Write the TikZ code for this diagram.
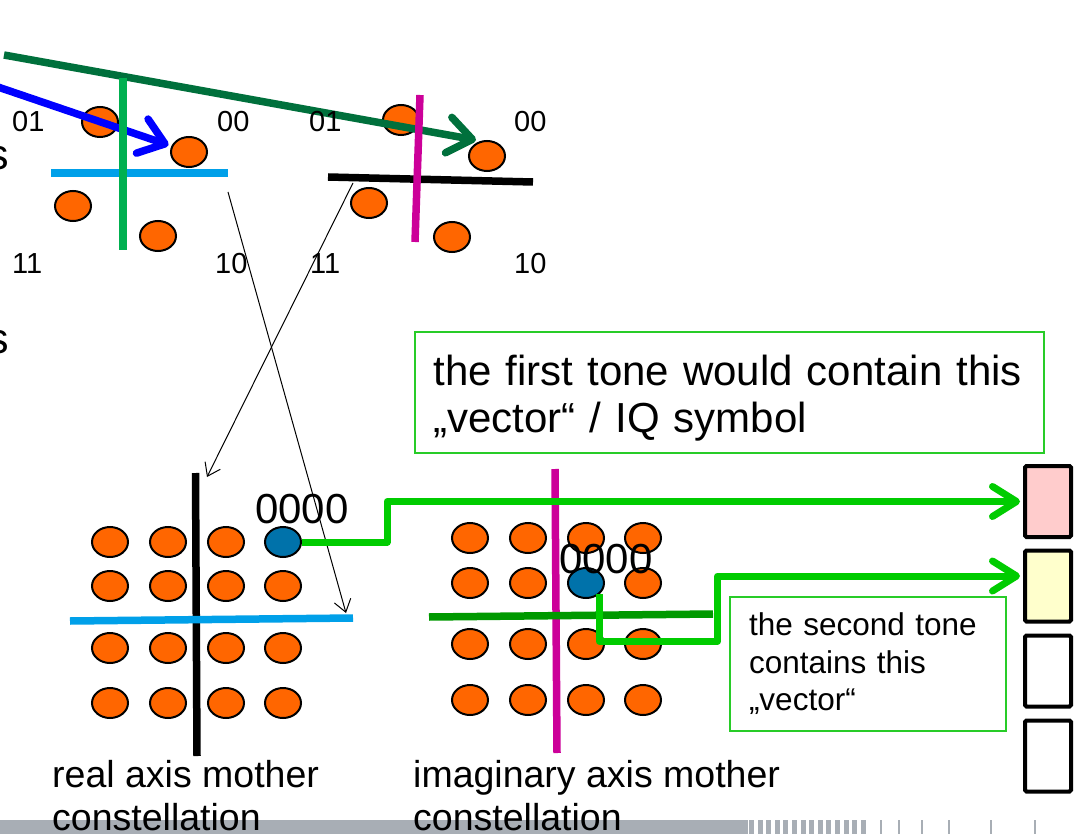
\documentclass[tikz,border=0pt]{standalone}
\usepackage{fontspec}
\setmainfont{Liberation Sans}
\usetikzlibrary{shapes.geometric,arrows.meta,calc}
\definecolor{orng}{RGB}{255,102,0}
\definecolor{dotblue}{RGB}{0,114,170}
\definecolor{dkgreen}{RGB}{0,112,60}
\definecolor{vgreen}{RGB}{0,176,80}
\definecolor{lblue}{RGB}{0,160,233}
\definecolor{magen}{RGB}{204,0,153}
\definecolor{cgreen}{RGB}{0,204,0}
\definecolor{hgreen}{RGB}{0,153,0}
\definecolor{bxgreen}{RGB}{40,204,40}
\definecolor{pinkf}{RGB}{255,204,204}
\definecolor{yellf}{RGB}{255,255,204}
\definecolor{barg}{RGB}{168,174,181}
\begin{document}
\begin{tikzpicture}[x=1pt,y=-1pt,
  dot/.style={ellipse,draw=black,line width=2pt,fill=orng,minimum width=36pt,minimum height=30pt,inner sep=0pt},
  bdot/.style={dot,fill=dotblue},
  axisline/.style={line width=7.5pt},
  barrow/.style={line width=7.5pt,line cap=butt,-{Straight Barb[length=24pt,width=36pt,round]}},
  thinarrow/.style={line width=1pt,-{Straight Barb[length=12pt,width=17pt]}},
  conn/.style={draw=cgreen,line width=7pt,line join=round,-{Straight Barb[length=24pt,width=30pt,round]}},
  lbl/.style={font=\fontsize{29}{33}\selectfont,inner sep=0pt,anchor=base west},
  bits/.style={font=\fontsize{42}{48}\selectfont,inner sep=0pt,anchor=base west},
  tone/.style={draw=black,line width=4pt,rounded corners=1.5pt,minimum width=46pt,minimum height=71pt,inner sep=0pt},
  note/.style={draw=bxgreen,line width=2.5pt,inner sep=0pt,align=left},
  axlabel/.style={font=\fontsize{37.5}{43}\selectfont,inner sep=0pt,anchor=north west,align=left}
]
\useasboundingbox[fill=white] (0,0) rectangle (1081,834);

% bottom bar
\fill[barg] (0,820) rectangle (748,834);
\foreach \i in {0,...,13} \fill[barg] ({749+8.6*\i},820) rectangle ++(5,14);
\foreach \x in {880,898,921,948,990,1034} \fill[barg] (\x,820) rectangle ++(2,14);

% cut-off letters at left edge
\node[anchor=base east,inner sep=0pt,font=\fontsize{43}{48}\selectfont] (s1) at (9,170) {s};
\node[anchor=base east,inner sep=0pt,font=\fontsize{43}{48}\selectfont] (s2) at (9,353) {s};

% top constellations
\node[dot] (q1a) at (100,122) {};
\node[dot] (q1b) at (189,152) {};
\node[dot] (q1c) at (73,206) {};
\node[dot] (q1d) at (158,236) {};
\node[dot] (q2a) at (401,120) {};
\node[dot] (q2b) at (487,156) {};
\node[dot] (q2c) at (369,203) {};
\node[dot] (q2d) at (452,237) {};

\coordinate (bs) at (-5,86);
\coordinate (gs) at (4,55);
\coordinate (ge) at (476,140);
\draw[barrow,draw=blue,shorten >=3pt] (bs) -- (q1b);
\draw[barrow,draw=dkgreen] (gs) -- (ge);

\draw[axisline,lblue] (51,173) -- (228,173);
\draw[axisline,vgreen] (123,78) -- (123,250);
\draw[axisline,black] (328,177) -- (533,182);
\draw[axisline,magen] (420,95) -- (415,242);

\node[lbl] (l1a) at (12,132) {01};
\node[lbl] (l1b) at (217,132) {00};
\node[lbl] (l1c) at (12,273) {11};
\node[lbl] (l1d) at (215,273) {10};
\node[lbl] (l2a) at (309,132) {01};
\node[lbl] (l2b) at (514,132) {00};
\node[lbl] (l2c) at (310,273) {11};
\node[lbl] (l2d) at (514,273) {10};

% bottom-left constellation
\foreach \c/\x in {1/110,2/168,3/226,4/283}
  \foreach \r/\y in {1/542,2/586,3/648,4/703}
    {\ifnum\r\c=14 \else \node[dot] (L\r\c) at (\x,\y) {};\fi}
\node[bdot] (L14) at (283,542) {};
\draw[axisline,black] (195.5,473) -- (197,756);
\draw[axisline,lblue] (70,621) -- (353,618);
\node[bits] (b1) at (255,523) {0000};

% bottom-middle constellation
\foreach \c/\x in {1/470,2/528,3/586,4/643}
  \foreach \r/\y in {1/538,2/583,3/644,4/700}
    {\ifnum\r\c=23 \else \node[dot] (M\r\c) at (\x,\y) {};\fi}
\node[bdot] (M23) at (586,583) {};
\draw[axisline,magen] (555,469) -- (557,753);
\draw[axisline,hgreen] (429,617) -- (713,614);
\node[bits] (b2) at (559,573) {0000};

% thin mapping arrows
\coordinate (ta1s) at (228,192);
\coordinate (ta1e) at (346,613);
\coordinate (ta2s) at (353,183);
\coordinate (ta2e) at (207,477);
\draw[thinarrow] (ta1s) -- (ta1e);
\draw[thinarrow] (ta2s) -- (ta2e);

% tones
\node[tone,fill=pinkf] (t1) at (1048,501.5) {};
\node[tone,fill=yellf] (t2) at (1048,586) {};
\node[tone,fill=white] (t3) at (1048,671) {};
\node[tone,fill=white] (t4) at (1048,756) {};

% notes
\node[note,minimum width=629pt,minimum height=121pt,text width=592pt,
      font=\fontsize{42}{47}\selectfont] (n1) at (729.5,392.5)
  {\rule{0pt}{41pt}the first tone would contain this\\„vector“ / IQ symbol};
\node[note,minimum width=276pt,minimum height=134pt,text width=238pt,
      font=\fontsize{31.5}{37.5}\selectfont] (n2) at (868,664)
  {the second tone\\contains this\\„vector“};

% connectors
\draw[conn] (L14.east) -- ++(85,0) |- ($(t1.west)+(-3,0)$);
\draw[conn] (M23.south east) -- ++(0,47) -- ++(118,0) |- ($(t2.west)+(-3,-10)$);

% captions
\node[axlabel] (c1) at (52,760) {real axis mother\\constellation};
\node[axlabel] (c2) at (413,760) {imaginary axis mother\\constellation};
\end{tikzpicture}
\end{document}
